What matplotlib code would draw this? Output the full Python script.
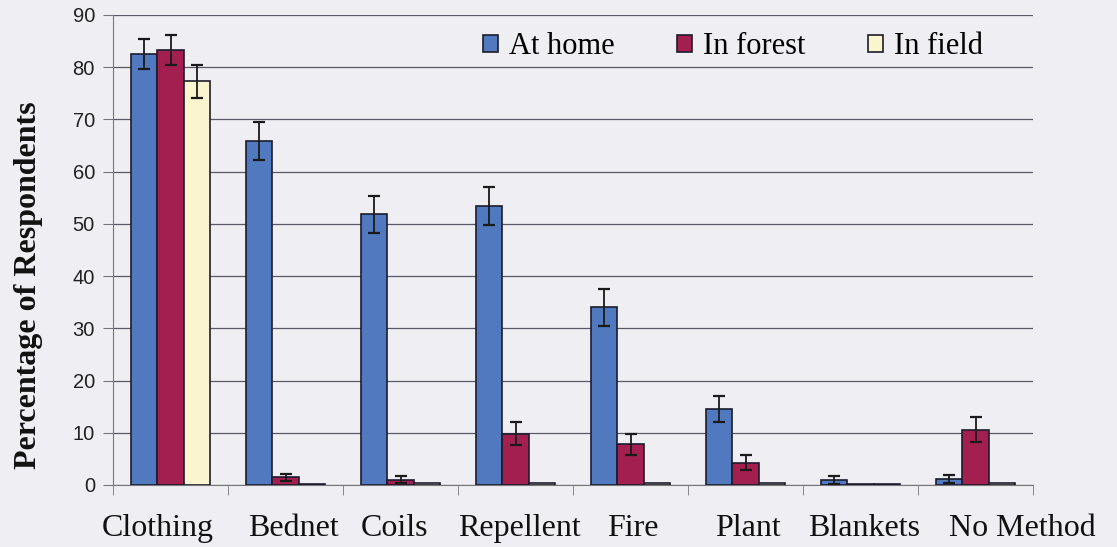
import matplotlib
matplotlib.use("Agg")
import matplotlib.pyplot as plt
import numpy as np

categories = ["Clothing", "Bednet", "Coils", "Repellent", "Fire", "Plant", "Blankets", "No Method"]
series_names = ["At home", "In forest", "In field"]
at_home = [82.6, 65.9, 51.8, 53.4, 34.0, 14.5, 1.0, 1.2]
at_home_err = [2.9, 3.6, 3.6, 3.6, 3.5, 2.5, 0.8, 0.8]
in_forest = [83.3, 1.5, 1.0, 9.8, 7.8, 4.3, 0.2, 10.6]
in_forest_err = [2.8, 0.7, 0.7, 2.2, 2.0, 1.5, 0.0, 2.4]
in_field = [77.3, 0.2, 0.3, 0.4, 0.3, 0.3, 0.2, 0.3]
in_field_err = [3.1, 0.0, 0.0, 0.0, 0.0, 0.0, 0.0, 0.0]
y_ticks = [0, 10, 20, 30, 40, 50, 60, 70, 80, 90]

# label placement offsets (layout only), relative to category centre
label_shift = [-0.11, 0.07, -0.05, 0.03, 0.02, 0.02, 0.03, 0.41]

colors = ["#5079c0", "#a21f50", "#fbf5cf"]
bg = "#efeef3"

fig = plt.figure(figsize=(11.17, 5.47), dpi=100, facecolor=bg)
ax = fig.add_axes([113/1117, 1-485/547, (1033-113)/1117, (485-15)/547])
ax.set_facecolor(bg)

x = np.arange(len(categories))
w = 0.23
data = [(at_home, at_home_err), (in_forest, in_forest_err), (in_field, in_field_err)]
for i, ((vals, errs), name, c) in enumerate(zip(data, series_names, colors)):
    pos = x + (i - 1) * w
    ax.bar(pos, vals, width=w, color=c, edgecolor="#1c1c2c", linewidth=1.2,
           label=name, zorder=3)
    e = np.array(errs)
    mask = e > 0
    ax.errorbar(pos[mask], np.array(vals)[mask], yerr=e[mask], fmt="none",
                ecolor="#1a1a1a", elinewidth=1.3, capsize=4, capthick=1.6, zorder=4)

ax.set_xlim(-0.5, len(categories) - 0.5)
ax.set_ylim(0, 90)
ax.set_yticks(y_ticks)
ax.yaxis.grid(True, color="#5a5a66", linewidth=0.9, zorder=0)
ax.set_axisbelow(True)

for s in ["top", "right"]:
    ax.spines[s].set_visible(False)
ax.spines["left"].set_color("#777777")
ax.spines["bottom"].set_color("#777777")

ax.set_xticks(x + np.array(label_shift))
ax.set_xticklabels(categories, family="Liberation Serif", fontsize=23)
ax.tick_params(axis="x", which="major", length=0, pad=21, colors="#111111")
ax.set_xticks(np.arange(-0.5, len(categories), 1.0), minor=True)
ax.tick_params(axis="x", which="minor", length=7, color="#777777", direction="out")
ax.tick_params(axis="y", length=7, color="#777777", labelsize=14.5, pad=6, labelcolor="#222222")
for lab in ax.get_yticklabels():
    lab.set_family("Liberation Sans")

ax.set_ylabel("Percentage of Respondents", family="Liberation Serif",
              fontweight="bold", fontsize=23, color="#111111")
ax.yaxis.set_label_coords(-0.076, 0.426)

leg = ax.legend(loc="center", bbox_to_anchor=(0.674, 0.932), ncol=3, frameon=False,
                prop={"family": "Liberation Serif", "size": 22}, handlelength=0.5,
                handleheight=0.5, handletextpad=0.35, columnspacing=2.05, borderaxespad=0.0,
                borderpad=0.0)

fig.savefig("out.png", dpi=100, facecolor=bg)
